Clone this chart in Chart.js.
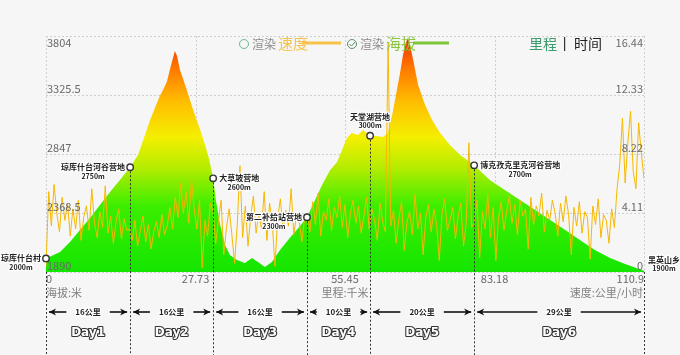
<!DOCTYPE html>
<html>
<head>
<meta charset="utf-8">
<script src="https://cdn.jsdelivr.net/npm/chart.js@4/dist/chart.umd.min.js"></script>
<style>
html,body{margin:0;padding:0;background:#f6f6f6;}
#wrap{width:680px;height:355px;position:relative;}
canvas{display:block;}
</style>
</head>
<body>
<div id="wrap"><canvas id="c" width="680" height="355"></canvas></div>
<script>
// ---------- DATA ----------
const elevKm = [0,2.6,4.45,6.3,8.16,10.0,11.87,13.7,15.6,17.06,18.36,19.3,20.2,21.1,21.7,22.4,23.2,23.9,24.3,24.85,25.8,26.7,27.6,28.6,29.5,30.2,31.0,31.5,32.3,33.2,34.1,35.4,36.9,38.2,39.3,40.6,41.9,43.4,45.2,47.1,48.4,49.9,51.2,52.7,54.0,54.9,55.8,56.7,57.9,58.8,60.1,61.3,62.5,63.4,64.2,64.9,65.6,66.2,66.8,67.1,67.5,68.1,69.0,70.3,71.6,73.1,74.9,76.8,79.4,82.3,85.1,87.9,90.7,93.5,96.3,99.0,101.8,104.6,107.4,110.9];
const elevM = [2000,2052,2133,2231,2328,2433,2539,2636,2740,2839,3001,3123,3220,3317,3366,3431,3569,3682,3642,3528,3407,3285,3163,3042,2920,2815,2650,2474,2271,2109,2028,1987,1963,2004,1971,1930,1971,2068,2166,2263,2335,2474,2596,2717,2782,2879,2977,3017,3001,3042,2995,2993,2985,3017,3163,3325,3488,3650,3755,3788,3731,3609,3407,3244,3123,3017,2920,2839,2755,2636,2555,2474,2393,2312,2231,2150,2068,2004,1955,1900];
// speed samples, evenly spaced along the 110.9 km track (km/h)
const speedKmh = [
0.4,5.6,3.2,6.1,4.1,2.8,5.2,3.6,4.8,2.5,4.4,3.0,5.0,2.2,3.8,4.6,2.9,5.8,3.4,2.4,4.2,3.1,6.0,2.7,3.9,2.0,3.5,4.4,2.3,3.7,2.9,
3.0,2.2,3.6,1.8,2.9,3.9,2.1,3.3,1.6,2.8,3.5,2.4,4.0,2.6,3.2,4.5,3.0,5.2,3.8,6.2,4.1,5.6,3.4,6.5,4.4,3.0,5.0,0.3,3.6,2.5,4.8,
4.2,2.0,3.5,5.0,1.2,3.1,4.4,2.6,0.6,3.3,7.4,2.4,4.6,1.8,3.9,5.3,2.7,4.1,3.0,5.6,2.2,4.8,3.4,0.4,3.7,5.1,2.9,4.3,3.2,5.8,2.6,4.0,3.5,2.1,3.8,
4.0,2.8,4.9,3.3,5.5,2.5,4.2,3.6,5.1,2.9,4.5,3.8,5.3,3.1,4.7,2.4,4.1,5.0,3.4,4.6,2.7,3.9,5.2,3.0,4.4,3.6,2.2,4.8,3.5,2.8,
16.0,3.2,4.3,2.0,3.7,4.9,1.5,3.5,4.2,2.6,5.4,3.0,4.1,1.2,3.8,4.7,2.8,4.4,3.3,0.8,4.0,5.1,2.9,3.6,4.5,2.3,3.9,4.8,1.8,3.4,9.0,3.1,
3.5,5.0,1.0,4.2,3.0,5.4,2.4,4.5,0.8,3.8,4.9,2.9,4.2,5.3,3.4,4.7,2.6,5.0,3.9,4.4,1.6,5.2,3.3,4.6,3.9,5.5,2.8,4.3,3.6,5.0,
4.1,2.5,4.8,3.5,5.3,4.0,1.2,4.5,3.2,4.9,2.7,4.2,3.8,0.9,4.6,3.3,5.1,2.4,4.0,3.6,2.0,4.4,3.1,5.8,7.5,10.7,6.2,9.0,11.2,7.0,
5.8,10.4,8.3,6.5];
const trackKm = 110.9;
const xTicks = [0, 27.73, 55.45, 83.18, 110.9];
const elevTicks = [1890, 2368.5, 2847, 3325.5, 3804];
const speedTicks = [0, 4.11, 8.22, 12.33, 16.44];
const waypointKm = [0, 15.6, 31.0, 48.4, 60.1, 79.4, 110.9];
const waypointEle = [2000, 2740, 2650, 2335, 2995, 2755, 1900];
const waypointNames = ['琼库什台村','琼库什台河谷营地','大草坡营地','第二补给站营地','天堂湖营地','博克孜克里克河谷营地','黑英山乡'];
const waypointAlt = ['2000m','2750m','2600m','2300m','3000m','2700m','1900m'];
const dayBounds = [0, 15.6, 31.0, 48.4, 60.1, 79.4, 110.9];
const dayDist = ['16公里','16公里','16公里','10公里','20公里','29公里'];
const dayNames = ['Day1','Day2','Day3','Day4','Day5','Day6'];

// ---------- STYLE ----------
const CJK = '"Noto Sans CJK SC","Noto Sans",sans-serif';
const labelSide = ['left','left','right','left','top','right','end'];

function outlined(c, t, x, y, fill, stroke, lw){
  c.lineJoin='round'; c.strokeStyle=stroke; c.lineWidth=lw; c.strokeText(t,x,y);
  c.fillStyle=fill; c.fillText(t,x,y);
}
function arrow(c, x1, x2, y, dir){
  c.save(); c.strokeStyle='#111'; c.fillStyle='#111'; c.lineWidth=1.6;
  c.beginPath(); c.moveTo(x1,y); c.lineTo(x2,y); c.stroke();
  const tip = dir<0 ? x1 : x2;
  c.beginPath(); c.moveTo(tip,y); c.lineTo(tip-dir*7,y-3.5); c.lineTo(tip-dir*5,y); c.lineTo(tip-dir*7,y+3.5); c.closePath(); c.fill();
  c.restore();
}

const deco = {
  id:'deco',
  beforeDatasetsDraw(chart){
    const c=chart.ctx, a=chart.chartArea, sx=chart.scales.x, sy=chart.scales.y;
    c.save(); c.strokeStyle='#cfcfcf'; c.lineWidth=1; c.setLineDash([2,2]);
    elevTicks.forEach(v=>{const y=Math.round(sy.getPixelForValue(v))+0.5; c.beginPath(); c.moveTo(a.left,y); c.lineTo(a.right,y); c.stroke();});
    xTicks.forEach(v=>{const x=Math.round(sx.getPixelForValue(v))+0.5; c.beginPath(); c.moveTo(x,a.top); c.lineTo(x,a.bottom); c.stroke();});
    c.restore();
  },
  afterDatasetsDraw(chart){
    const c=chart.ctx, a=chart.chartArea, sx=chart.scales.x, sy=chart.scales.y, s2=chart.scales.y2;
    c.save();
    // tick labels
    c.font='11px '+CJK; c.fillStyle='#6a6a6a';
    elevTicks.forEach((v,i)=>{const y=sy.getPixelForValue(v);
      c.textAlign='left'; c.textBaseline = i===elevTicks.length-1?'top':'bottom';
      c.fillText(String(v), a.left+1, i===elevTicks.length-1? y+1 : y-1);});
    speedTicks.forEach((v,i)=>{const y=s2.getPixelForValue(v);
      c.textAlign='right'; c.textBaseline = i===speedTicks.length-1?'top':'bottom';
      c.fillText(String(v), a.right-1, i===speedTicks.length-1? y+1 : y-1);});
    xTicks.forEach((v,i)=>{const x=sx.getPixelForValue(v);
      c.textBaseline='top'; c.textAlign = i===0?'left':(i===xTicks.length-1?'right':'center');
      c.fillText(String(v), x, a.bottom+1);});
    c.fillStyle='#808080';
    c.textAlign='left'; c.fillText('海拔:米', a.left, a.bottom+15);
    c.textAlign='center'; c.fillText('里程:千米', (a.left+a.right)/2, a.bottom+15);
    c.textAlign='right'; c.fillText('速度:公里/小时', a.right-1, a.bottom+15);

    // dashed day lines
    c.strokeStyle='#333'; c.lineWidth=1; c.setLineDash([2,2]);
    waypointKm.forEach((k,i)=>{
      const x=Math.round(sx.getPixelForValue(k))+0.5;
      const y0 = (i===0||i===waypointKm.length-1) ? a.bottom : sy.getPixelForValue(waypointEle[i]);
      c.beginPath(); c.moveTo(x,y0); c.lineTo(x,chart.height); c.stroke();
    });
    c.setLineDash([]);

    // markers + labels
    waypointKm.forEach((k,i)=>{
      const x=sx.getPixelForValue(k), y=sy.getPixelForValue(waypointEle[i]);
      const side=labelSide[i];
      if(side!=='end'){
        c.beginPath(); c.arc(x,y,3.2,0,Math.PI*2); c.fillStyle='#fff'; c.fill();
        c.strokeStyle='#333'; c.lineWidth=1.4; c.stroke();
      }
      c.font='bold 8px '+CJK; c.textBaseline='middle';
      const w=c.measureText(waypointNames[i]).width;
      let nx, ny, cx, ay;
      if(side==='left'){ nx=x-5-w; ny=y; ay=y+9; }
      else if(side==='right'){ nx=x+6; ny=y; ay=y+9; }
      else if(side==='top'){ nx=x-w/2; ny=y-19; ay=y-10; }
      else { nx=x+4; ny=y-11; ay=y-2; }
      cx=nx+w/2;
      c.textAlign='left'; outlined(c, waypointNames[i], nx, ny, '#222', '#fff', 2.5);
      c.font='bold 7px '+CJK; c.textAlign='center'; outlined(c, waypointAlt[i], cx, ay, '#222', '#fff', 2.5);
    });

    // day segments
    dayNames.forEach((d,i)=>{
      const x1=sx.getPixelForValue(dayBounds[i]), x2=sx.getPixelForValue(dayBounds[i+1]);
      const cxm=(x1+x2)/2;
      c.font='bold 8px '+CJK; c.textAlign='center'; c.textBaseline='middle';
      const tw=c.measureText(dayDist[i]).width;
      outlined(c, dayDist[i], cxm, 312, '#222', '#fff', 2.5);
      arrow(c, x1+3, cxm-tw/2-9, 312, -1);
      arrow(c, cxm+tw/2+9, x2-3, 312, 1);
      c.font='bold 12px "DejaVu Sans",sans-serif';
      outlined(c, d, cxm, 333, '#fff', '#333', 2.2);
    });

    // legend
    c.textBaseline='middle'; c.textAlign='left';
    c.strokeStyle='#6fb58f'; c.lineWidth=1; c.beginPath(); c.arc(244,44,4.5,0,Math.PI*2); c.stroke();
    c.font='12px '+CJK; c.fillStyle='#8a8a8a'; c.fillText('渲染',252,44);
    c.font='15px '+CJK; c.fillStyle='#f6c24a'; c.fillText('速度',278,43);
    c.strokeStyle='#f6c24a'; c.lineWidth=3; c.beginPath(); c.moveTo(302,43); c.lineTo(341,43); c.stroke();
    c.strokeStyle='#5a8f6e'; c.lineWidth=1; c.beginPath(); c.arc(352,44,4.5,0,Math.PI*2); c.stroke();
    c.beginPath(); c.moveTo(349.5,44); c.lineTo(351.5,46); c.lineTo(355,42); c.stroke();
    c.font='12px '+CJK; c.fillStyle='#8a8a8a'; c.fillText('渲染',360,44);
    c.font='15px '+CJK; c.fillStyle='#8cc63f'; c.fillText('海拔',386,43);
    c.strokeStyle='#7dc63b'; c.lineWidth=3; c.beginPath(); c.moveTo(413,43); c.lineTo(449,43); c.stroke();
    c.font='14px '+CJK; c.fillStyle='#3f9d6d'; c.fillText('里程',529,44);
    c.fillStyle='#333'; c.fillRect(564,37,1.2,14);
    c.fillStyle='#222'; c.fillText('时间',574,44);
    c.restore();
  }
};

function elevGradient(ctx){
  const chart=ctx.chart, sy=chart.scales.y;
  if(!chart.chartArea || !sy) return '#22ee00';
  const y0=sy.getPixelForValue(elevTicks[0]), y1=sy.getPixelForValue(elevTicks[elevTicks.length-1]);
  const g=chart.ctx.createLinearGradient(0,y0,0,y1);
  g.addColorStop(0,'#14e600');
  g.addColorStop(0.28,'#3cee00');
  g.addColorStop(0.44,'#b4ec00');
  g.addColorStop(0.57,'#f4ef00');
  g.addColorStop(0.72,'#ffbe00');
  g.addColorStop(0.86,'#ff7a00');
  g.addColorStop(1,'#ee2a00');
  return g;
}

const speedStep = trackKm/(speedKmh.length-1);
new Chart(document.getElementById('c'), {
  type:'line',
  data:{
    datasets:[
      {label:'速度', data:speedKmh.map((v,i)=>({x:i*speedStep,y:v})), yAxisID:'y2',
       borderColor:'#f5b800', borderWidth:1, pointRadius:0, fill:false, tension:0, order:0},
      {label:'海拔', data:elevKm.map((k,i)=>({x:k,y:elevM[i]})), yAxisID:'y',
       backgroundColor:elevGradient, borderWidth:0, pointRadius:0, fill:'start', tension:0, order:1}
    ]
  },
  options:{
    responsive:false, animation:false, devicePixelRatio:1,
    layout:{padding:{left:46,right:36,top:36,bottom:83}},
    plugins:{legend:{display:false}, tooltip:{enabled:false}},
    scales:{
      x:{type:'linear', min:0, max:trackKm, display:false},
      y:{min:elevTicks[0], max:elevTicks[elevTicks.length-1], display:false},
      y2:{min:speedTicks[0], max:speedTicks[speedTicks.length-1], display:false, position:'right'}
    }
  },
  plugins:[deco]
});
</script>
</body>
</html>
